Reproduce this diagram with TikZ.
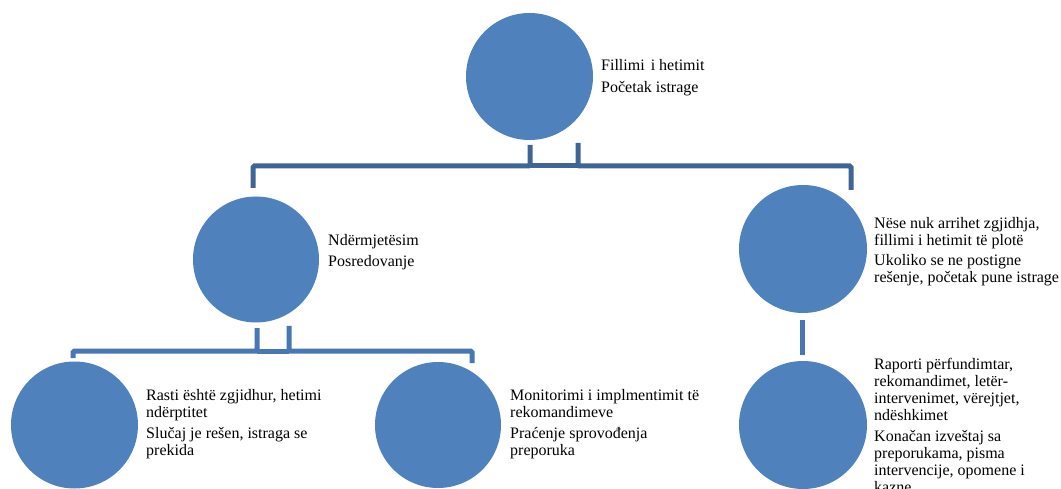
\documentclass[tikz,border=0pt]{standalone}
\usepackage{fontspec}
\setmainfont{Liberation Serif}
\definecolor{circblue}{HTML}{4F81BD}
\definecolor{linedark}{HTML}{3F6597}
\definecolor{linemid}{HTML}{4877B3}
\begin{document}
\begin{tikzpicture}[x=1pt,y=-1pt,
  ball/.style={circle, fill=circblue, draw=none, minimum size=#1, inner sep=0pt},
  ball/.default=127pt,
  lbl/.style={anchor=north west, inner sep=0pt, align=left, font=\fontsize{16}{17}\selectfont},
  conn/.style={line width=5pt, draw=#1, rounded corners=1.5pt},
  conn/.default=linemid]
\useasboundingbox (0,0) rectangle (1061,489);
% circles
\node[ball] (top) at (529.5,76.5) {};
\node[ball=126pt] (midL) at (256,259.5) {};
\node[ball=128pt] (midR) at (803,249) {};
\node[ball=127pt] (botL) at (74.5,425) {};
\node[ball=126pt] (botM) at (438,425) {};
\node[ball=128pt] (botR) at (803,425) {};
% labels
\node[lbl] (tTop) at (601,59) {Fillimi\hspace{2pt} i hetimit\\[5pt]Početak istrage};
\node[lbl] (tMidL) at (328,234) {Ndërmjetësim\\[4pt]Posredovanje};
\node[lbl] (tMidR) at (874,216.7) {Nëse nuk arrihet zgjidhja,\\fillimi i hetimit të plotë\\[3.5pt]Ukoliko se ne postigne\\rešenje, početak pune istrage};
\node[lbl] (tBotL) at (146,389) {Rasti është zgjidhur, hetimi\\ndërptitet\\[4pt]Slučaj je rešen, istraga se\\prekida};
\node[lbl] (tBotM) at (510,389) {Monitorimi i implmentimit të\\rekomandimeve\\[4pt]Praćenje sprovođenja\\preporuka};
\node[lbl] (tBotR) at (874,358.3) {Raporti përfundimtar,\\rekomandimet, letër-\\intervenimet, vërejtjet,\\ndëshkimet\\[4pt]Konačan izveštaj sa\\preporukama, pisma\\intervencije, opomene i\\kazne.};
% connector end points
\coordinate (a1) at (530,145);
\coordinate (a2) at (578,143);
\coordinate (aL) at (253,188);
\coordinate (aR) at (851,190);
\coordinate (b1) at (257,328);
\coordinate (b2) at (289,326);
\coordinate (bL) at (73,358);
\coordinate (bR) at (472,363);
\coordinate (c1) at (802,320);
\coordinate (c2) at (802,355);
% top connectors
\draw[conn=linedark] (a1) -- (a1 |- 0,166) -- (aL |- 0,166) -- (aL);
\draw[conn=linedark] (a2) -- (a2 |- 0,166) -- (aR |- 0,166) -- (aR);
\draw[conn=linedark] (a1 |- 0,166) -- (a2 |- 0,166);
% middle-left connectors
\draw[conn] (b1) -- (b1 |- 0,351) -- (bL |- 0,351) -- (bL);
\draw[conn] (b2) -- (b2 |- 0,351) -- (bR |- 0,351) -- (bR);
\draw[conn] (b1 |- 0,351) -- (b2 |- 0,351);
% right connector
\draw[conn] (c1) -- (c2);
\end{tikzpicture}
\end{document}
